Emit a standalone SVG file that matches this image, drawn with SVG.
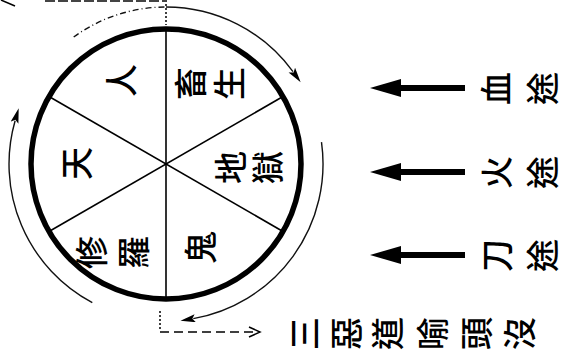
<svg xmlns="http://www.w3.org/2000/svg" width="564" height="356" viewBox="0 0 564 356">
<defs>
<style>
.lbl{font-family:"Noto Sans CJK TC","Noto Sans CJK SC",sans-serif;font-size:33px;font-weight:500;fill:#000}
.arc{fill:none;stroke:#111;stroke-width:1.4}
.spoke{stroke:#000;stroke-width:1.6}
.big{fill:#000}
</style>
<marker id="ah" markerUnits="userSpaceOnUse" markerWidth="16" markerHeight="10" refX="2" refY="4" orient="auto">
<path d="M0,0 L15,4 L0,8 L3,4 z" fill="#000"/>
</marker>
</defs>
<g id="wheel">
<circle cx="166" cy="164" r="135" fill="#fff" stroke="#000" stroke-width="5.5"/>
<line class="spoke" x1="166" y1="29" x2="166" y2="299"/>
<line class="spoke" x1="49" y1="96.5" x2="283" y2="231.5"/>
<line class="spoke" x1="49" y1="231.5" x2="283" y2="96.5"/>
</g>
<g id="node-ren"><text class="lbl" x="134" y="97" rotate="-90">人</text></g>
<g id="node-chusheng"><text class="lbl" x="203 242" y="100" rotate="-90">畜生</text></g>
<g id="node-tian"><text class="lbl" x="89" y="180" rotate="-90">天</text></g>
<g id="node-diyu"><text class="lbl" x="243 280" y="184" rotate="-90">地獄</text></g>
<g id="node-xiuluo"><text class="lbl" x="104 146" y="269" rotate="-90">修羅</text></g>
<g id="node-gui"><text class="lbl" x="213" y="264" rotate="-90">鬼</text></g>
<g id="node-xuetu"><text class="lbl" x="509 555" y="105" rotate="-90">血途</text></g>
<g id="node-huotu"><text class="lbl" x="509 555" y="189" rotate="-90">火途</text></g>
<g id="node-daotu"><text class="lbl" x="509 555" y="272" rotate="-90">刀途</text></g>
<g id="node-caption"><text class="lbl" x="317 359 400 445 489 532" y="350" rotate="-90">三惡道喻頭沒</text></g>
<g id="connectors">
<path class="arc" d="M73.7,37 A157,157 0 0 1 166,7" stroke-dasharray="6,3,1,3"/>
<path class="arc" d="M166,7 A157,157 0 0 1 293,71.7" marker-end="url(#ah)"/>
<path class="arc" d="M321.5,142.2 A157,157 0 0 1 193.3,318.6" marker-end="url(#ah)"/>
<path class="arc" d="M92.3,302.6 A157,157 0 0 1 15.1,120.7" marker-end="url(#ah)"/>
<line x1="465" y1="88" x2="396" y2="88" stroke="#000" stroke-width="6"/>
<polygon class="big" points="370,88 401,79 401,97"/>
<line x1="465" y1="172" x2="396" y2="172" stroke="#000" stroke-width="6"/>
<polygon class="big" points="370,172 401,163 401,181"/>
<line x1="465" y1="255" x2="396" y2="255" stroke="#000" stroke-width="6"/>
<polygon class="big" points="370,255 401,246 401,264"/>
<line x1="160" y1="311" x2="160" y2="331" stroke="#000" stroke-width="1.5" stroke-dasharray="2,2"/>
<line x1="160" y1="332" x2="258" y2="332" stroke="#000" stroke-width="1.5" stroke-dasharray="9,5"/>
<polyline points="249,327 260,332 249,337" fill="none" stroke="#000" stroke-width="1.5"/>
<line x1="166" y1="0" x2="166" y2="25" stroke="#000" stroke-width="1.5" stroke-dasharray="2,2"/>
<line x1="45" y1="1" x2="166" y2="1" stroke="#444" stroke-width="2" stroke-dasharray="10,3"/>
<line x1="1" y1="0" x2="15" y2="6" stroke="#000" stroke-width="1.5"/>
</g>
</svg>
